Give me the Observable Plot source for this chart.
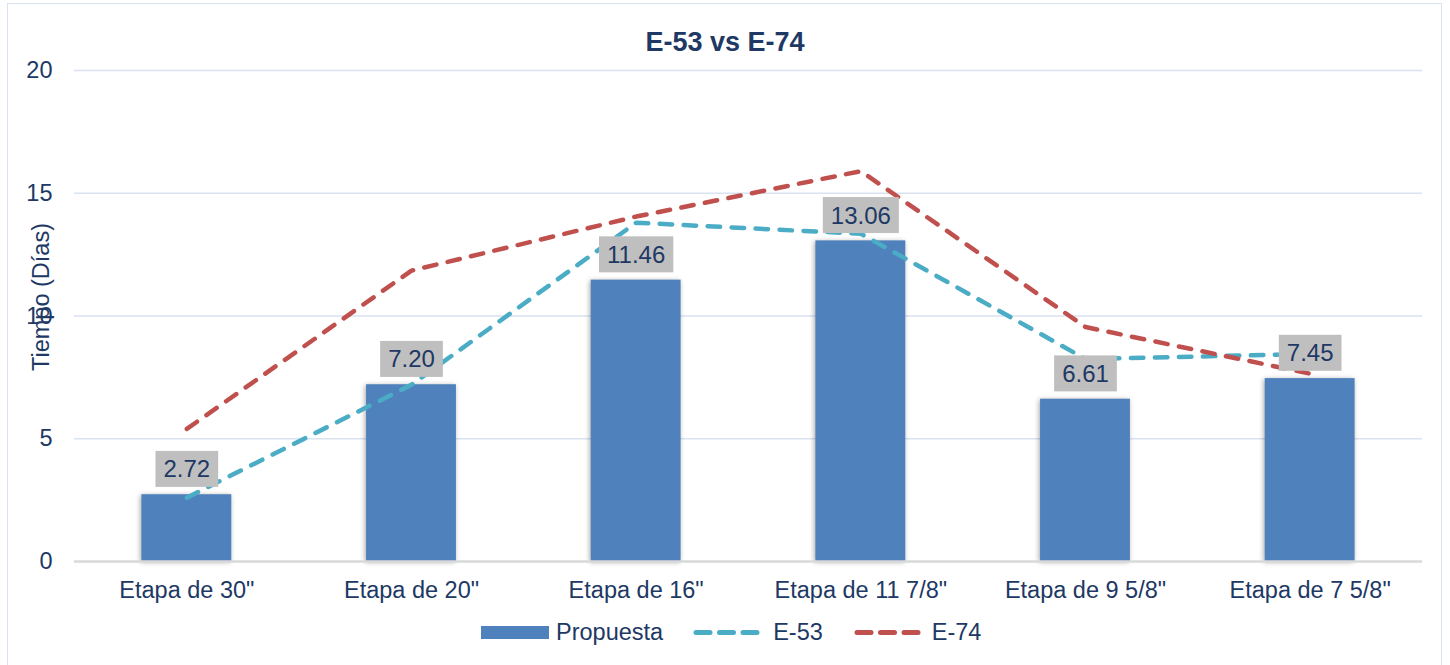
<!DOCTYPE html>
<html>
<head>
<meta charset="utf-8">
<script src="https://cdn.jsdelivr.net/npm/d3@7"></script>
<script src="https://cdn.jsdelivr.net/npm/@observablehq/plot@0.6"></script>
<style>
  html, body { margin: 0; padding: 0; background: #fff; }
  body { width: 1450px; height: 665px; overflow: hidden; position: relative;
         font-family: "Liberation Sans", Arial, sans-serif; color: #203864; }
  #frame { position: absolute; left: 7px; top: 3px; width: 1435px; height: 700px;
           border: 1.5px solid #D9E2F0; box-sizing: border-box; }
  #title { position: absolute; left: 0; top: 26px; width: 1450px; text-align: center;
           font-weight: bold; font-size: 27px; line-height: 32px; color: #203864; }
  #ytitle { position: absolute; left: -59px; top: 282px; width: 200px; line-height: 30px;
            text-align: center; font-size: 23.5px; transform: rotate(-90deg); color: #203864; }
  #chart { position: absolute; left: 0; top: 0; }
  #legend { position: absolute; left: 481px; top: 616px; height: 32px; display: flex;
            align-items: center; font-size: 23.5px; line-height: 32px; color: #203864; white-space: nowrap; }
  #legend .sw { width: 68px; height: 13px; background: #4F81BD; }
  #legend svg { display: block; }
</style>
</head>
<body>
<div id="frame"></div>
<div id="chart"></div>
<div id="title">E-53 vs E-74</div>
<div id="ytitle">Tiempo (Días)</div>
<div id="legend"></div>
<script>
const categories = ['Etapa de 30"', 'Etapa de 20"', 'Etapa de 16"', 'Etapa de 11 7/8"', 'Etapa de 9 5/8"', 'Etapa de 7 5/8"'];
const propuesta = [2.72, 7.20, 11.46, 13.06, 6.61, 7.45];
const e53 = [2.6, 7.2, 13.8, 13.35, 8.25, 8.45];
const e74 = [5.4, 11.85, 14.05, 15.9, 9.55, 7.65];
const yTicks = [0, 5, 10, 15, 20];
const seriesNames = ["Propuesta", "E-53", "E-74"];
const colors = {bar: "#4F81BD", e53: "#4BACC6", e74: "#C0504D"};

const idx = d3.range(categories.length);
const dash = "12.5,11.5";

const plot = Plot.plot({
  width: 1450,
  height: 612,
  marginLeft: 74,
  marginRight: 28,
  marginTop: 70,
  marginBottom: 51,
  style: {fontFamily: '"Liberation Sans", Arial, sans-serif', fontSize: "23.5px", color: "#203864", background: "transparent"},
  x: {domain: categories, paddingInner: 0.6, paddingOuter: 0.3, round: false, tickSize: 0, tickPadding: 20, label: null},
  y: {domain: [0, 20], ticks: yTicks, tickSize: 0, tickPadding: 22, label: null, tickFormat: d3.format("d")},
  marks: [
    Plot.ruleY(yTicks.filter(d => d > 0), {stroke: "#D9E2F0", strokeWidth: 1.5}),
    Plot.barY(idx, {x: i => categories[i], y: i => propuesta[i], fill: colors.bar}),
    Plot.ruleY([0], {stroke: "#D9D9D9", strokeWidth: 2.5}),
    Plot.line(idx, {x: i => categories[i], y: i => e53[i], stroke: colors.e53, strokeWidth: 4.5,
      strokeDasharray: dash, strokeLinecap: "round", strokeLinejoin: "round"}),
    Plot.line(idx, {x: i => categories[i], y: i => e74[i], stroke: colors.e74, strokeWidth: 4.5,
      strokeDasharray: dash, strokeLinecap: "round", strokeLinejoin: "round"}),
    Plot.text(idx, {x: i => categories[i], y: i => propuesta[i], text: i => propuesta[i].toFixed(2),
      dy: -25, lineAnchor: "middle", fontSize: 24, fill: "#203864"})
  ]
});
document.getElementById("chart").appendChild(plot);

// bar shadow
plot.querySelectorAll('g[aria-label="bar"]').forEach(g => {
  g.style.filter = "drop-shadow(-1px 1px 2.5px rgba(0,0,0,0.35))";
});

// grey label boxes behind the value labels
const NS = "http://www.w3.org/2000/svg";
plot.querySelectorAll('g[aria-label="text"] text').forEach(t => {
  const b = t.getBBox();
  const r = document.createElementNS(NS, "rect");
  const cy = b.y + b.height / 2;
  r.setAttribute("x", b.x - 8);
  r.setAttribute("width", b.width + 16);
  r.setAttribute("y", cy - 18);
  r.setAttribute("height", 36);
  r.setAttribute("fill", "#BFBFBF");
  if (t.getAttribute("transform")) r.setAttribute("transform", t.getAttribute("transform"));
  t.parentNode.insertBefore(r, t);
});

// legend
const legend = document.getElementById("legend");
function dashSwatch(color) {
  const s = document.createElementNS(NS, "svg");
  s.setAttribute("width", 67); s.setAttribute("height", 13);
  const l = document.createElementNS(NS, "line");
  l.setAttribute("x1", 3); l.setAttribute("x2", 64);
  l.setAttribute("y1", 6.5); l.setAttribute("y2", 6.5);
  l.setAttribute("stroke", color); l.setAttribute("stroke-width", 5);
  l.setAttribute("stroke-linecap", "round");
  l.setAttribute("stroke-dasharray", "14,9.5");
  s.appendChild(l);
  return s;
}
function span(txt, ml) {
  const e = document.createElement("span");
  e.textContent = txt; e.style.marginLeft = ml + "px";
  return e;
}
const sw = document.createElement("div"); sw.className = "sw";
legend.appendChild(sw);
legend.appendChild(span(seriesNames[0], 7));
const d1 = dashSwatch(colors.e53); d1.style.marginLeft = "30px"; legend.appendChild(d1);
legend.appendChild(span(seriesNames[1], 13));
const d2 = dashSwatch(colors.e74); d2.style.marginLeft = "31px"; legend.appendChild(d2);
legend.appendChild(span(seriesNames[2], 11));
</script>
</body>
</html>
